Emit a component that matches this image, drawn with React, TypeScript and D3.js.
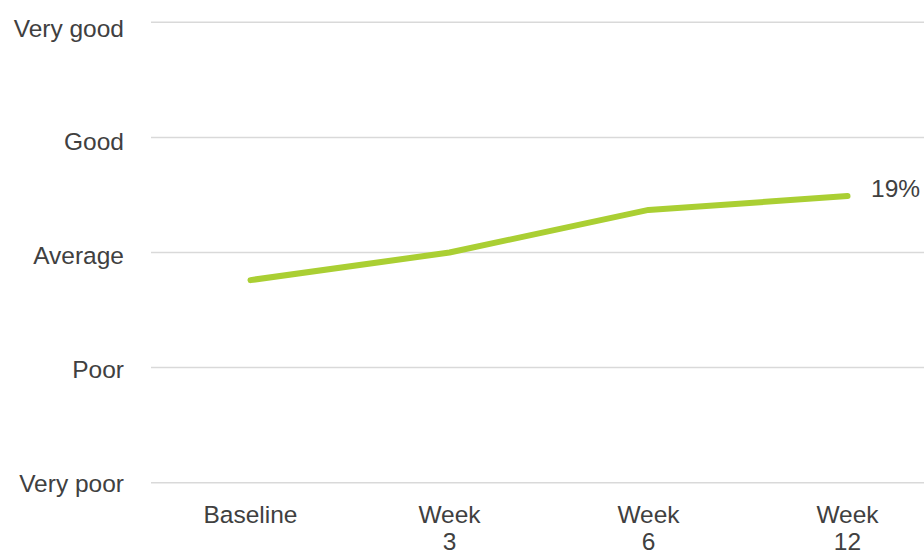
import React from "react";
import * as d3 from "d3";

const categories: string[][] = [["Baseline"], ["Week", "3"], ["Week", "6"], ["Week", "12"]];
const values: number[] = [1.76, 2.0, 2.37, 2.49];
const yTickLabels: string[] = ["Very poor", "Poor", "Average", "Good", "Very good"];
const endLabel = "19%";

const W = 924;
const H = 551;

export default function App() {
  const x = d3
    .scaleBand<number>()
    .domain(categories.map((_, i) => i))
    .range([151, 947])
    .padding(0);
  const y = d3.scaleLinear().domain([0, 4]).range([482.7, 22.3]);
  const yLabel = y.copy().range([483, 27.8]);
  const cx = (i: number) => (x(i) as number) + x.bandwidth() / 2;
  const line = d3
    .line<number>()
    .x((_, i) => cx(i))
    .y((d) => y(d));
  const last = values.length - 1;
  const font = "Liberation Sans, Arial, sans-serif";
  const fs = 24.5;
  return (
    <svg
      width={W}
      height={H}
      style={{ position: "absolute", left: 0, top: 0, background: "#fff" }}
      fontFamily={font}
    >
      {yTickLabels.map((t, i) => (
        <g key={t}>
          <line x1={151} x2={W} y1={y(i)} y2={y(i)} stroke="#d9d9d9" strokeWidth={1.5} />
          <text x={124} y={yLabel(i) + 8.7} textAnchor="end" fontSize={fs} fill="#404040">
            {t}
          </text>
        </g>
      ))}
      {categories.map((lines, i) => (
        <text key={i} x={cx(i)} y={522.7} textAnchor="middle" fontSize={fs} fill="#404040">
          {lines.map((l, j) => (
            <tspan key={j} x={cx(i)} dy={j === 0 ? 0 : 27.5}>
              {l}
            </tspan>
          ))}
        </text>
      ))}
      <path d={line(values) || ""} fill="none" stroke="#AACF33" strokeWidth={6} strokeLinecap="round" strokeLinejoin="round" />
      <text x={cx(last) + 23.5} y={y(values[last]) + 0.5} fontSize={fs} fill="#404040">
        {endLabel}
      </text>
    </svg>
  );
}
